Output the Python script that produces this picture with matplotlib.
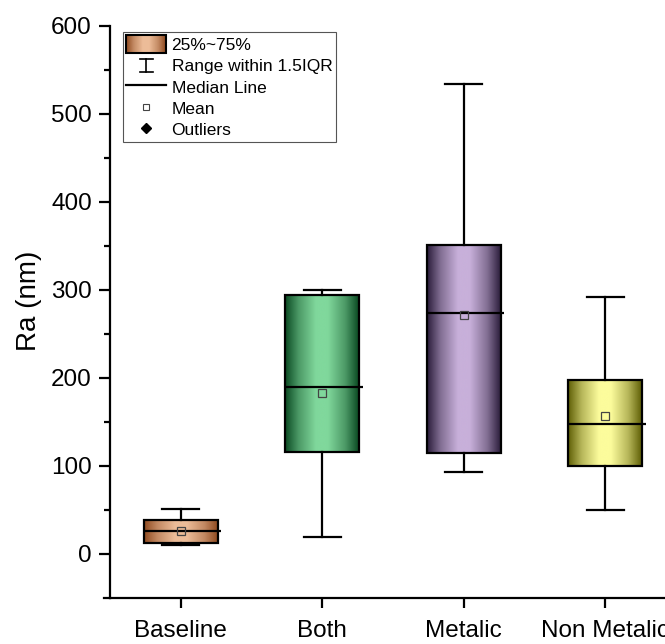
import numpy as np
import matplotlib
matplotlib.use('Agg')
import matplotlib.pyplot as plt
from matplotlib.colors import LinearSegmentedColormap, to_rgb
from matplotlib.patches import Rectangle
from matplotlib.lines import Line2D
from matplotlib.legend_handler import HandlerBase

plt.rcParams['font.family'] = ['Liberation Sans', 'DejaVu Sans']

# Ra statistics per surface group
groups = ['Baseline', 'Both', 'Metalic', 'Non Metalic']
q1 = [12.5, 116, 115, 100]
med = [26, 190, 274, 148]
q3 = [38.5, 294, 351, 198]
whis_lo = [10, 19, 93, 50]
whis_hi = [51, 300, 534, 292]
means = [26, 183, 272, 157]

dark_colors = ['#8f4a20', '#0a4a22', '#2a1c3a', '#5e5e05']
light_colors = ['#ecbc98', '#80d89c', '#c8b0da', '#fcfc9c']

stats = []
for i in range(len(groups)):
    stats.append({'label': groups[i], 'q1': q1[i], 'med': med[i], 'q3': q3[i],
                  'whislo': whis_lo[i], 'whishi': whis_hi[i], 'mean': means[i],
                  'fliers': []})


def cylinder_cmap(name, dark, light):
    d, l = np.array(to_rgb(dark)), np.array(to_rgb(light))
    mid = 0.45 * d + 0.55 * l
    return LinearSegmentedColormap.from_list(
        name, [(0, d), (0.18, mid), (0.42, l), (0.58, l), (0.82, mid), (1, d)])


cmaps = [cylinder_cmap('cyl%d' % i, d, l) for i, (d, l) in enumerate(zip(dark_colors, light_colors))]

positions = np.arange(1, len(groups) + 1)
box_w = 0.52
lw = 1.6

fig = plt.figure(figsize=(6.65, 6.44), dpi=100)
ax = fig.add_axes([110 / 665, 46 / 644, 566 / 665, 572 / 644])

bp = ax.bxp(stats, positions=positions, widths=box_w, capwidths=0.26,
            patch_artist=True, showmeans=True, manage_ticks=False,
            boxprops=dict(facecolor='none', edgecolor='black', linewidth=lw),
            whiskerprops=dict(color='black', linewidth=lw),
            capprops=dict(color='black', linewidth=lw),
            medianprops=dict(color='black', linewidth=lw),
            meanprops=dict(marker='s', markersize=6, markerfacecolor='none',
                           markeredgecolor='#444444', markeredgewidth=0.9))

# cylinder-like shading inside each box
grad = np.linspace(0, 1, 256).reshape(1, -1)
for i, box in enumerate(bp['boxes']):
    im = ax.imshow(grad, extent=[positions[i] - box_w / 2, positions[i] + box_w / 2, q1[i], q3[i]],
                   aspect='auto', cmap=cmaps[i], zorder=1.5, interpolation='bicubic')
    im.set_clip_path(box)

for line in bp['medians']:
    x = line.get_xdata()
    line.set_xdata([x[0], x[1] + 0.025])

ax.set_xlim(0.5, 4.5)
ax.set_ylim(-50, 600)
ax.set_yticks(range(0, 601, 100))
ax.set_yticks(range(50, 600, 100), minor=True)
ax.set_xticks(positions, groups)

for s in ['top', 'right']:
    ax.spines[s].set_visible(False)
for s in ['left', 'bottom']:
    ax.spines[s].set_linewidth(lw)
ax.plot([-6 / 566, 0], [0, 0], transform=ax.transAxes, color='black', lw=lw, clip_on=False)

ax.tick_params(axis='y', which='major', direction='out', length=8, width=lw, labelsize=17.5, pad=5)
ax.tick_params(axis='y', which='minor', direction='out', length=4.5, width=lw)
ax.tick_params(axis='x', which='major', direction='out', length=7, width=lw, labelsize=17.5, pad=9)

ax.set_ylabel('Ra (nm)', fontsize=20)
ax.yaxis.set_label_coords(-0.121, 0.519)


class GradientHandler(HandlerBase):
    def __init__(self, cmap):
        super().__init__()
        self.cmap = cmap

    def create_artists(self, legend, orig_handle, xdescent, ydescent, width, height, fontsize, trans):
        n = 40
        arts = []
        for k in range(n):
            r = Rectangle((-xdescent + width * k / n, -ydescent), width / n + 0.3, height,
                          facecolor=self.cmap(k / (n - 1)), edgecolor='none', transform=trans)
            arts.append(r)
        arts.append(Rectangle((-xdescent, -ydescent), width, height, facecolor='none',
                              edgecolor='black', linewidth=1.5, transform=trans))
        return arts


class WhiskerHandler(HandlerBase):
    def create_artists(self, legend, orig_handle, xdescent, ydescent, width, height, fontsize, trans):
        cx = -xdescent + width / 2
        y0 = -ydescent + height * 0.1
        y1 = -ydescent + height * 0.85
        c = width * 0.16
        arts = [Line2D([cx, cx], [y0, y1], color='black', lw=1.2, transform=trans),
                Line2D([cx - c, cx + c], [y0, y0], color='black', lw=1.2, transform=trans),
                Line2D([cx - c, cx + c], [y1, y1], color='black', lw=1.2, transform=trans)]
        return arts


box_proxy = Rectangle((0, 0), 1, 1)
whisk_proxy = Line2D([], [])
median_proxy = Line2D([], [], color='black', lw=lw)
mean_proxy = Line2D([], [], linestyle='none', marker='s', markersize=5,
                    markerfacecolor='none', markeredgecolor='#444444', markeredgewidth=0.8)
out_proxy = Line2D([], [], linestyle='none', marker='D', markersize=5, color='black')

leg = ax.legend([box_proxy, whisk_proxy, median_proxy, mean_proxy, out_proxy],
                ['25%~75%', 'Range within 1.5IQR', 'Median Line', 'Mean', 'Outliers'],
                handler_map={box_proxy: GradientHandler(cmaps[0]), whisk_proxy: WhiskerHandler()},
                loc='upper left', bbox_to_anchor=(13 / 566, (598 - 32) / 572), borderaxespad=0,
                fontsize=12.5, frameon=True, fancybox=False, edgecolor='#555555', framealpha=1,
                handlelength=2.3, handleheight=1.15, handletextpad=0.3, labelspacing=0.22,
                borderpad=0.2)
leg.get_frame().set_linewidth(0.8)

fig.savefig('out.png', dpi=100)
